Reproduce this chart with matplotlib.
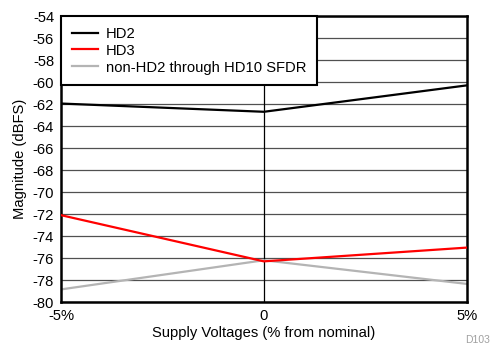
import matplotlib
matplotlib.use("Agg")
import matplotlib.pyplot as plt

plt.rcParams['font.family'] = ['Liberation Sans', 'DejaVu Sans']
plt.rcParams['axes.unicode_minus'] = False

# supply deviation (% from nominal) and measured distortion
supply = [-5, 0, 5]
hd2 = [-61.95, -62.7, -60.3]
hd3 = [-72.1, -76.3, -75.05]
sfdr = [-78.85, -76.2, -78.35]

x_ticks = [-5, 0, 5]
x_labels = ['-5%', '0', '5%']
y_ticks = list(range(-80, -53, 2))

fs = 10.6

fig = plt.figure(figsize=(4.9, 3.5), dpi=100)
ax = fig.add_axes([0.1245, 0.137, 0.828, 0.817])

# grid
for y in y_ticks:
    ax.axhline(y, color='#505050', lw=0.9, zorder=1)
ax.axvline(0, color='black', lw=0.9, zorder=1)

ax.plot(supply, hd2, color='black', lw=1.6, label='HD2', zorder=3)
ax.plot(supply, hd3, color='#ff0000', lw=1.6, label='HD3', zorder=3)
ax.plot(supply, sfdr, color='#b4b4b4', lw=1.6, label='non-HD2 through HD10 SFDR', zorder=2)

ax.set_xlim(-5, 5)
ax.set_ylim(-80, -54)
ax.set_xticks(x_ticks)
ax.set_xticklabels(x_labels)
ax.set_yticks(y_ticks)
ax.tick_params(length=0, labelsize=fs, pad=5)

for s in ax.spines.values():
    s.set_linewidth(1.8)

ax.set_xlabel('Supply Voltages (% from nominal)', fontsize=fs, labelpad=2)
ax.set_ylabel('Magnitude (dBFS)', fontsize=fs, labelpad=4)

leg = ax.legend(loc='upper left', fontsize=fs, frameon=True, fancybox=False,
                borderaxespad=0, handlelength=1.8, labelspacing=0.2,
                borderpad=0.72, handletextpad=0.55)
leg.get_frame().set_edgecolor('black')
leg.get_frame().set_linewidth(1.5)
leg.get_frame().set_alpha(1)

fig.text(0.999, 0.015, 'D103', fontsize=7.5, color='#a0a0a0', ha='right', va='bottom')

fig.savefig('out.png', dpi=100)
